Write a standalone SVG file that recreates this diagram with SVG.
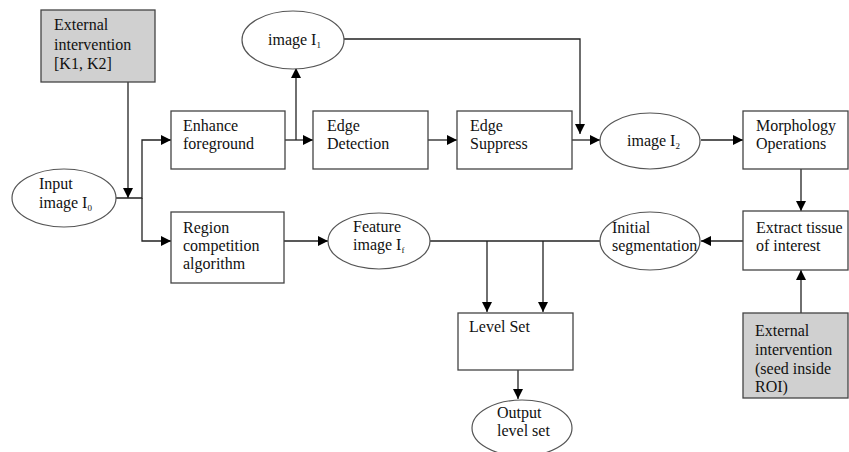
<svg xmlns="http://www.w3.org/2000/svg" width="849" height="452" viewBox="0 0 849 452">
<style>
.box{fill:#fff;stroke:#444;stroke-width:1.3}
.ext{fill:#d0d0d0;stroke:#444;stroke-width:1.3}
.ell{fill:#fff;stroke:#555;stroke-width:1.2}
.t{font-family:'Liberation Serif','Times New Roman','DejaVu Serif',serif;font-size:16px;fill:#111}
.sub{font-size:9px}
.c{fill:none;stroke:#222;stroke-width:1.3}
</style>
<defs>
<marker id="ah" markerWidth="10" markerHeight="10" refX="10" refY="5" orient="auto" markerUnits="userSpaceOnUse">
<path d="M0,0 L10,5 L0,10 Z" fill="#000"/>
</marker>
</defs>
<rect width="849" height="452" fill="#fff"/>
<g id="connectors">
<path class="c" d="M128,82 V198" marker-end="url(#ah)"/>
<path class="c" d="M116,198 H142 V140 H171" marker-end="url(#ah)"/>
<path class="c" d="M142,198 V241 H171" marker-end="url(#ah)"/>
<path class="c" d="M285,140 H313" marker-end="url(#ah)"/>
<path class="c" d="M296,140 V68" marker-end="url(#ah)"/>
<path class="c" d="M428,140 H457" marker-end="url(#ah)"/>
<path class="c" d="M344,39 H580 V134" marker-end="url(#ah)"/>
<path class="c" d="M572,140 H600" marker-end="url(#ah)"/>
<path class="c" d="M701,140 H743" marker-end="url(#ah)"/>
<path class="c" d="M801,169 V211" marker-end="url(#ah)"/>
<path class="c" d="M743,241 H701" marker-end="url(#ah)"/>
<path class="c" d="M801,313 V270" marker-end="url(#ah)"/>
<path class="c" d="M284,241 H328" marker-end="url(#ah)"/>
<path class="c" d="M430,241 H600"/>
<path class="c" d="M487,241 V312" marker-end="url(#ah)"/>
<path class="c" d="M543,241 V312" marker-end="url(#ah)"/>
<path class="c" d="M518,370 V399" marker-end="url(#ah)"/>
</g>
<g id="ext1">
<rect class="ext" x="41" y="10" width="114" height="72"/>
<text class="t" x="54" y="30">External</text>
<text class="t" x="54" y="50">intervention</text>
<text class="t" x="54" y="69">[K1, K2]</text>
</g>
<g id="input">
<ellipse class="ell" cx="64" cy="198" rx="52" ry="29"/>
<text class="t" x="39" y="189">Input</text>
<text class="t" x="39" y="208">image I<tspan class="sub" dy="3">0</tspan></text>
</g>
<g id="enhance">
<rect class="box" x="171" y="111" width="114" height="58"/>
<text class="t" x="183" y="131">Enhance</text>
<text class="t" x="183" y="149">foreground</text>
</g>
<g id="image1">
<ellipse class="ell" cx="293" cy="40" rx="51" ry="29"/>
<text class="t" x="268" y="45">image I<tspan class="sub" dy="3">1</tspan></text>
</g>
<g id="edgedet">
<rect class="box" x="313" y="111" width="115" height="58"/>
<text class="t" x="327" y="131">Edge</text>
<text class="t" x="327" y="149">Detection</text>
</g>
<g id="edgesup">
<rect class="box" x="457" y="111" width="115" height="58"/>
<text class="t" x="470" y="131">Edge</text>
<text class="t" x="470" y="149">Suppress</text>
</g>
<g id="image2">
<ellipse class="ell" cx="650" cy="141" rx="50" ry="28"/>
<text class="t" x="627" y="146">image I<tspan class="sub" dy="3">2</tspan></text>
</g>
<g id="morph">
<rect class="box" x="743" y="111" width="105" height="58"/>
<text class="t" x="756" y="131">Morphology</text>
<text class="t" x="756" y="149">Operations</text>
</g>
<g id="extract">
<rect class="box" x="743" y="211" width="105" height="59"/>
<text class="t" x="756" y="233">Extract tissue</text>
<text class="t" x="756" y="251">of interest</text>
</g>
<g id="ext2">
<rect class="ext" x="743" y="313" width="105" height="85"/>
<text class="t" x="755" y="336">External</text>
<text class="t" x="755" y="355">intervention</text>
<text class="t" x="755" y="374">(seed inside</text>
<text class="t" x="755" y="392">ROI)</text>
</g>
<g id="initseg">
<ellipse class="ell" cx="650" cy="241" rx="50" ry="29"/>
<text class="t" x="612" y="233">Initial</text>
<text class="t" x="612" y="251">segmentation</text>
</g>
<g id="region">
<rect class="box" x="171" y="212" width="113" height="71"/>
<text class="t" x="183" y="233">Region</text>
<text class="t" x="183" y="251">competition</text>
<text class="t" x="183" y="269">algorithm</text>
</g>
<g id="feature">
<ellipse class="ell" cx="379" cy="241" rx="51" ry="28"/>
<text class="t" x="353" y="232">Feature</text>
<text class="t" x="353" y="250">image I<tspan class="sub" dy="3">f</tspan></text>
</g>
<g id="levelset">
<rect class="box" x="458" y="313" width="115" height="57"/>
<text class="t" x="469" y="332">Level Set</text>
</g>
<g id="output">
<ellipse class="ell" cx="522" cy="428" rx="50" ry="28"/>
<text class="t" x="497" y="418">Output</text>
<text class="t" x="497" y="436">level set</text>
</g>
</svg>
